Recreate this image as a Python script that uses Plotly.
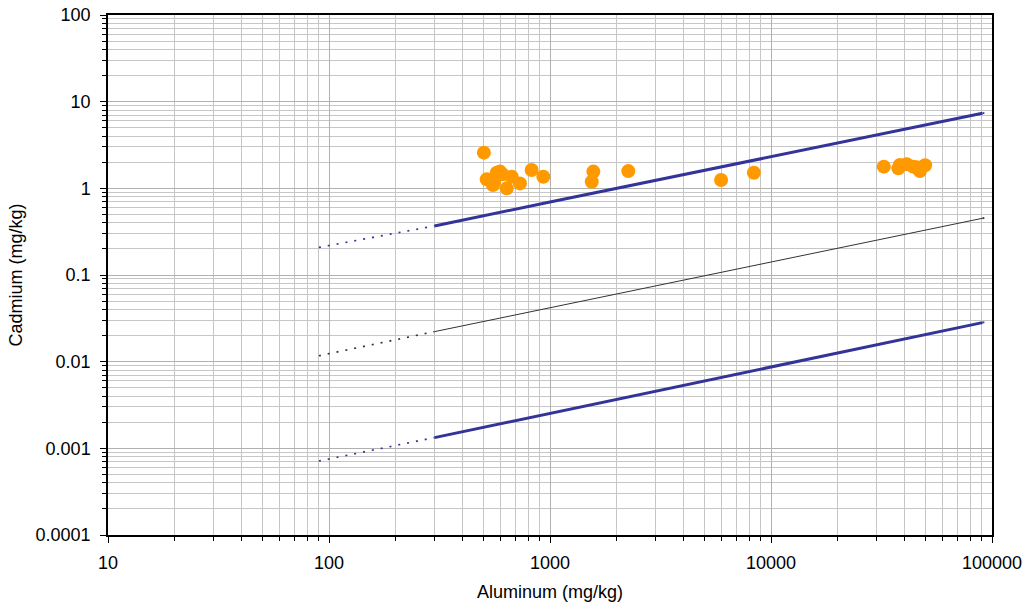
import plotly.graph_objects as go

# Sample data (Aluminum mg/kg, Cadmium mg/kg)
al = [502, 517, 574, 594, 552, 637, 671, 731, 826, 933, 560, 610, 1571, 1545, 2261,
      5943, 8370, 32400, 37700, 38300, 41100, 44000, 47200, 49800, 45500]
cd = [2.58, 1.27, 1.51, 1.56, 1.09, 1.0, 1.36, 1.14, 1.63, 1.36, 1.2, 1.45, 1.56, 1.19, 1.58,
      1.25, 1.51, 1.78, 1.70, 1.86, 1.90, 1.78, 1.58, 1.85, 1.75]

# Regression line and prediction limits (solid range)
line_x = [300, 1000, 90500]
upper_y = [0.368, 0.695, 7.34]
mid_y = [0.0222, 0.042, 0.451]
lower_y = [0.00133, 0.00254, 0.0282]

# Extrapolated (dotted) extensions
ext_left_x = [90, 300]
ext_right_x = [90500, 97000]
upper_left = [0.208, 0.368]
mid_left = [0.0117, 0.0222]
lower_left = [0.000714, 0.00133]
upper_right = [7.34, 7.66]
mid_right = [0.451, 0.471]
lower_right = [0.0282, 0.0294]

blue = "#333399"
dark = "#333333"
dotdash = "2px,7px"

fig = go.Figure()

for xs, ys, col in [
    (ext_left_x, upper_left, blue), (ext_left_x, mid_left, dark), (ext_left_x, lower_left, blue),
    (ext_right_x, upper_right, blue), (ext_right_x, mid_right, dark), (ext_right_x, lower_right, blue),
]:
    fig.add_trace(go.Scatter(x=xs, y=ys, mode="lines",
                             line=dict(color=col, width=1.7, dash=dotdash),
                             showlegend=False, hoverinfo="skip"))

fig.add_trace(go.Scatter(x=line_x, y=upper_y, mode="lines",
                         line=dict(color=blue, width=3), showlegend=False))
fig.add_trace(go.Scatter(x=line_x, y=mid_y, mode="lines",
                         line=dict(color=dark, width=1), showlegend=False))
fig.add_trace(go.Scatter(x=line_x, y=lower_y, mode="lines",
                         line=dict(color=blue, width=3), showlegend=False))

fig.add_trace(go.Scatter(x=al, y=cd, mode="markers",
                         marker=dict(color="#FF9900", size=14, line=dict(width=0)),
                         showlegend=False))

font = dict(family="Liberation Sans, Arial, sans-serif", size=18, color="black")
title_font = dict(family="Liberation Sans, Arial, sans-serif", size=18, color="black")

axis_common = dict(
    type="log", dtick=1, showgrid=True, gridcolor="#b0b0b0", gridwidth=1,
    minor=dict(dtick="D1", showgrid=True, gridcolor="#c6c6c6", gridwidth=1,
               ticks="outside", ticklen=4, tickcolor="black"),
    showline=True, linecolor="black", linewidth=1.5, mirror=True,
    ticks="outside", ticklen=6, tickcolor="black", zeroline=False,
    tickfont=font, title_font=title_font, automargin=False,
)

fig.update_xaxes(range=[1, 5], title_text="Aluminum (mg/kg)", title_standoff=13,
                 ticklabelstandoff=5,
                 tickvals=[10, 100, 1000, 10000, 100000],
                 ticktext=["10", "100", "1000", "10000", "100000"], **axis_common)
fig.update_yaxes(range=[-4, 2], title_text="Cadmium (mg/kg)", title_standoff=8,
                 ticklabelstandoff=6,
                 tickvals=[0.0001, 0.001, 0.01, 0.1, 1, 10, 100],
                 ticktext=["0.0001", "0.001", "0.01", "0.1", "1", "10", "100"], **axis_common)

fig.update_layout(
    width=1029, height=607,
    margin=dict(l=108, r=37, t=15, b=72),
    plot_bgcolor="white", paper_bgcolor="white",
    font=font,
)

fig.write_html("out.html")
